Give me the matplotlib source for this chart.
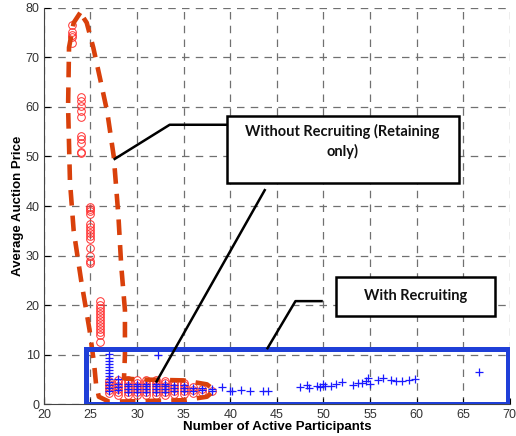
import numpy as np
import matplotlib
matplotlib.use('Agg')
import matplotlib.pyplot as plt
from matplotlib.patches import Rectangle

# red circles: without recruiting (retaining only)
red_x = ([23] * 5 + [24] * 10 + [25] * 14 + [26] * 13
         + [27] * 5 + [28] * 6 + [29] * 6 + [30] * 6 + [31] * 6 + [32] * 6
         + [33] * 6 + [34] * 5 + [35] * 5 + [36] * 3 + [37] * 2 + [38] * 1)
red_y = ([76.6, 75.1, 74.5, 74.1, 73.0]
         + [62.1, 61.1, 60.1, 59.1, 57.9, 54.1, 53.5, 52.8, 51.0, 50.6]
         + [39.9, 39.4, 38.9, 38.3, 36.4, 35.8, 35.2, 34.6, 34.0, 33.4, 31.5, 30.0, 29.0, 28.4]
         + [20.8, 20.0, 19.4, 18.8, 18.2, 17.6, 17.0, 16.4, 15.8, 15.2, 14.6, 14.0, 12.5]
         + [2.2, 2.8, 3.4, 4.0, 4.6]
         + [1.8, 2.4, 3.0, 3.6, 4.2, 4.8]
         + [1.8, 2.4, 3.0, 3.6, 4.2, 4.8]
         + [1.8, 2.4, 3.0, 3.6, 4.2, 4.8]
         + [1.8, 2.4, 3.0, 3.6, 4.2, 4.8]
         + [1.8, 2.4, 3.0, 3.6, 4.2, 4.8]
         + [1.8, 2.4, 3.0, 3.6, 4.2, 4.6]
         + [2.0, 2.6, 3.2, 3.8, 4.4]
         + [2.0, 2.6, 3.2, 3.8, 4.2]
         + [2.2, 2.8, 3.4]
         + [2.4, 3.0]
         + [2.6])

# blue pluses: with recruiting
blue_x = ([27] * 13 + [28] * 4 + [29] * 4 + [30] * 4 + [31] * 4 + [32] * 4
          + [32.3] + [33] * 4 + [34] * 3 + [35] * 3 + [36] * 2 + [37] * 2 + [38] * 2
          + [39.1, 40.0, 40.2, 41.2, 42.1, 43.5, 44.0,
             47.5, 48.2, 48.4, 49.3, 49.6, 50.0, 50.2, 50.8, 51.3, 52.0,
             53.2, 53.7, 54.1, 54.6, 54.8, 55.0, 55.9, 56.4, 57.2, 57.8,
             58.4, 59.2, 59.8, 66.7])
blue_y = ([10.2, 9.4, 8.8, 8.2, 7.6, 6.8, 6.2, 5.6, 5.0, 4.4, 3.8, 3.2, 2.6]
          + [5.0, 4.0, 3.4, 2.8]
          + [2.4, 3.0, 3.6, 4.0]
          + [2.4, 3.0, 3.6, 4.0]
          + [2.4, 3.0, 3.6, 4.0]
          + [2.4, 3.0, 3.6, 4.0]
          + [9.9]
          + [2.4, 3.0, 3.6, 4.0]
          + [2.6, 3.2, 3.8]
          + [2.6, 3.2, 3.8]
          + [2.6, 3.2]
          + [2.8, 3.2]
          + [2.6, 3.0]
          + [3.5, 2.7, 2.7, 2.9, 2.7, 2.7, 2.7,
             3.5, 3.9, 3.3, 3.7, 3.5, 4.1, 3.6, 3.7, 4.0, 4.5,
             3.9, 4.2, 4.3, 4.6, 5.2, 4.0, 4.9, 5.3, 4.8, 4.6,
             4.7, 4.8, 5.0, 6.4])

# hand drawn outline round the red group
loop_x = [23.9, 23.2, 22.7, 22.6, 22.8, 23.2, 24.0, 24.9, 25.4, 25.6, 25.9, 27.0, 30.0,
          35.0, 37.5, 38.3, 37.5, 35.0, 30.0, 28.6, 28.7, 28.7, 28.3, 28.0, 27.5,
          26.8, 26.0, 25.3, 24.6, 23.9]
loop_y = [79.0, 77.0, 72.0, 60.0, 45.0, 35.0, 25.0, 15.0, 8.0, 4.0, 1.5, 0.5, 0.6,
          0.8, 1.5, 2.8, 4.0, 4.8, 5.0, 5.2, 10.0, 19.0, 28.0, 38.0, 50.0,
          59.0, 66.0, 72.0, 77.0, 79.0]

fig = plt.figure(figsize=(5.16, 4.36), dpi=100)
ax = fig.add_axes([0.085, 0.073, 0.903, 0.909])

ax.plot(red_x, red_y, 'o', mfc='none', mec='#ff3030', ms=5.5, mew=0.7)
ax.plot(blue_x, blue_y, '+', color='#1a1aff', ms=6, mew=0.9)

ax.plot(loop_x, loop_y, color='#d9400b', lw=3.3, dashes=(3.4, 2.2),
        solid_capstyle='butt')

ax.add_patch(Rectangle((24.5, 0.0), 45.3, 11.1, fill=False,
                       edgecolor='#1f3fd8', lw=3.6, zorder=5))

# callout boxes
box_font = dict(family='Lato', weight='bold', size=10.5, color='#111111')
ax.add_patch(Rectangle((39.6, 44.7), 24.9, 13.5, fill=True, facecolor='white',
                       edgecolor='black', lw=1.8, zorder=6))
ax.text(52.0, 53.0, 'Without Recruiting (Retaining\nonly)', ha='center', va='center',
        linespacing=1.4, zorder=7, **box_font)
ax.plot([39.6, 33.5, 27.6], [56.4, 56.4, 49.5], color='black', lw=1.8)
ax.plot([43.7, 32.1], [43.2, 4.6], color='black', lw=1.8, zorder=6)

ax.add_patch(Rectangle((51.4, 17.8), 17.0, 7.9, fill=True, facecolor='white',
                       edgecolor='black', lw=1.8, zorder=6))
ax.text(59.9, 21.9, 'With Recruiting', ha='center', va='center', zorder=7, **box_font)
ax.plot([49.8, 47.0, 44.0], [20.8, 20.8, 11.3], color='black', lw=1.8, zorder=6)

ax.set_xlim(20, 70)
ax.set_ylim(0, 80)
ax.set_xticks(np.arange(20, 71, 5))
ax.set_yticks(np.arange(0, 81, 10))
ax.grid(True, color='#707070', linestyle=(0, (6, 5)), lw=0.9)
ax.tick_params(direction='in', labelsize=9, labelcolor='#333333', length=4)
ax.tick_params(axis='x', pad=3.5)
ax.tick_params(axis='y', pad=3)
for side in ['top', 'right']:
    ax.spines[side].set_visible(False)
for side in ['left', 'bottom']:
    ax.spines[side].set_color('#444444')

ax.set_xlabel('Number of Active Participants', fontsize=9.5, fontweight='bold',
              family='Liberation Sans', labelpad=0)
ax.set_ylabel('Average Auction Price', fontsize=9.5, fontweight='bold',
              family='Liberation Sans', labelpad=1.5)
for lbl in ax.get_xticklabels() + ax.get_yticklabels():
    lbl.set_family('Liberation Sans')

fig.savefig('out.png', dpi=100)
